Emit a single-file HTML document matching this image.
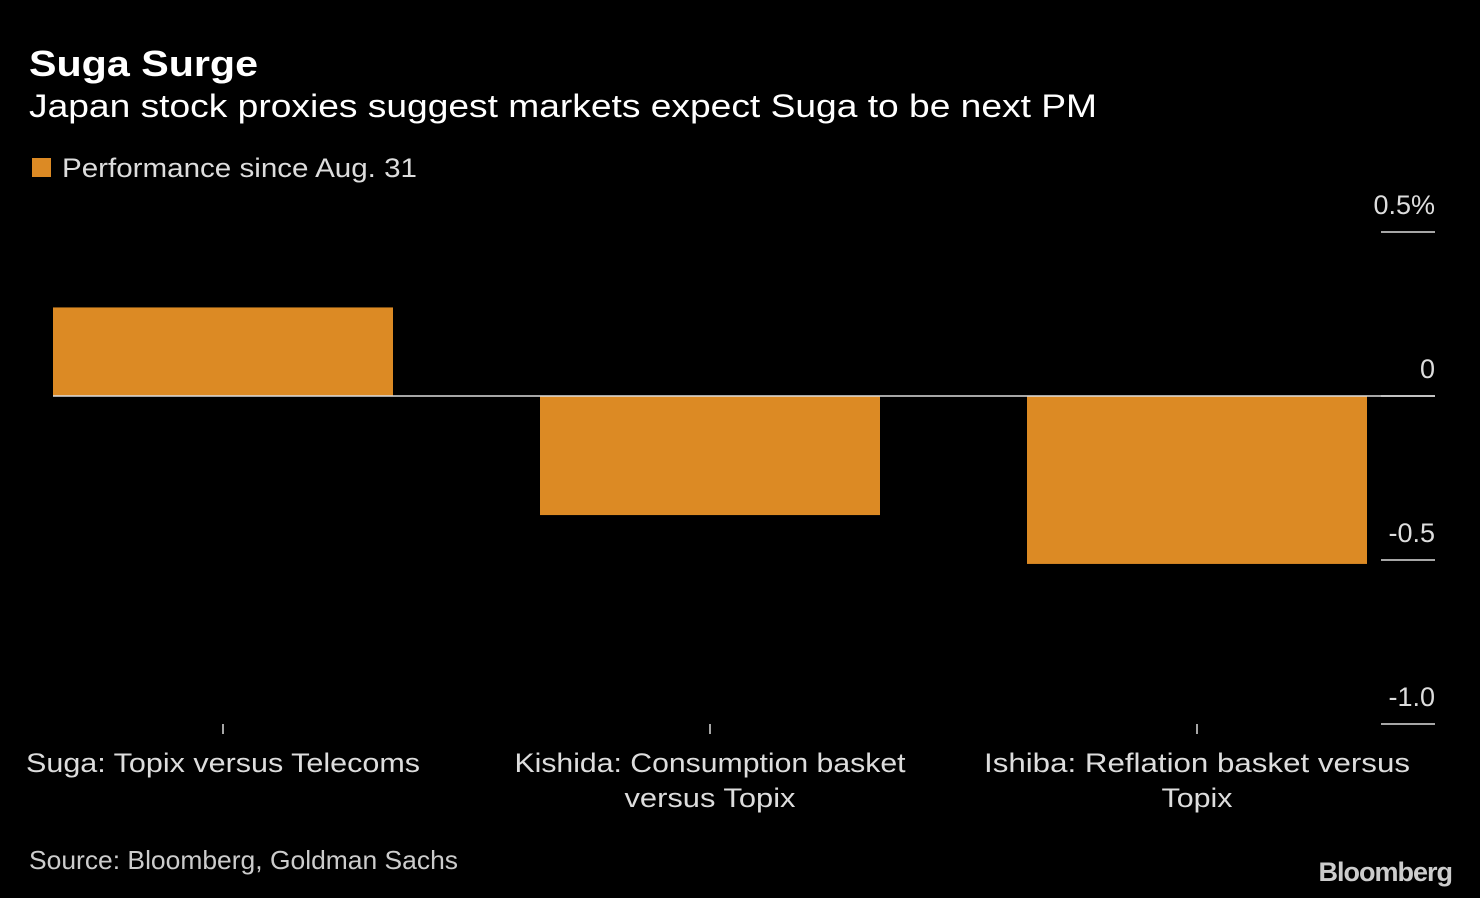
<!DOCTYPE html>
<html><head><meta charset="utf-8"><style>
body{margin:0;background:#000;width:1480px;height:898px;overflow:hidden;font-family:"Liberation Sans",sans-serif;color:#fff}
svg{position:absolute;left:0;top:0}
</style></head><body>
<svg width="1480" height="898">
<text x="29" y="76" font-size="36" font-weight="bold" fill="#fff" textLength="229" lengthAdjust="spacingAndGlyphs">Suga Surge</text>
<text x="29" y="117" font-size="32" fill="#fff" textLength="1068" lengthAdjust="spacingAndGlyphs">Japan stock proxies suggest markets expect Suga to be next PM</text>
<rect x="32" y="158" width="19" height="19" fill="#dc8a24"/>
<text x="62" y="177" font-size="27" fill="#ddd" textLength="355" lengthAdjust="spacingAndGlyphs">Performance since Aug. 31</text>
<g id="axis"></g><g id="bars"></g><g id="cats"></g>
<text x="29" y="869" font-size="26" fill="#ccc" textLength="429" lengthAdjust="spacingAndGlyphs">Source: Bloomberg, Goldman Sachs</text>
<text x="1452" y="881" font-size="27" font-weight="bold" fill="#ccc" text-anchor="end" letter-spacing="-1">Bloomberg</text>
</svg>
<script>
const categories=[["Suga: Topix versus Telecoms"],["Kishida: Consumption basket","versus Topix"],["Ishiba: Reflation basket versus","Topix"]];
const catWidths=[[394],[391,171],[426,71]];
const values=[0.27,-0.363,-0.512];
const tickValues=[0.5,0,-0.5,-1.0];
const tickLabels=["0.5%","0","-0.5","-1.0"];
const NS="http://www.w3.org/2000/svg";
const y=v=>396-v*328;
const x0=(i)=>53+i*487;
const bw=340;
function mk(t,a,p){const e=document.createElementNS(NS,t);for(const k in a)e.setAttribute(k,a[k]);p.appendChild(e);return e;}
const ax=document.getElementById('axis');
tickValues.forEach((v,i)=>{
 const l=mk('line',{x1:1381,x2:1435,y1:y(v),y2:y(v),stroke:'#ddd','stroke-width':1.5},ax);
 
 
 const t=mk('text',{x:1435,y:y(v)-18,'font-size':27,fill:'#ddd','text-anchor':'end'},ax);
 t.textContent=tickLabels[i];
 
 
});
const bg=document.getElementById('bars');
values.forEach((v,i)=>{
 const r=mk('rect',{x:x0(i),y:Math.min(y(v),y(0)),width:bw,height:Math.abs(y(v)-y(0)),fill:'#dc8a24'},bg);
 
 
});
const z=mk('line',{x1:53,x2:1435,y1:y(0),y2:y(0),stroke:'#ddd','stroke-width':1.5},bg);


const cg=document.getElementById('cats');
categories.forEach((c,i)=>{
 const cx=x0(i)+bw/2;
 const tk=mk('line',{x1:cx,x2:cx,y1:724,y2:734,stroke:'#ddd','stroke-width':1.5},cg);
 
 
 c.forEach((s,j)=>{
  const t=mk('text',{x:cx,y:772+j*35,'font-size':27,fill:'#ddd','text-anchor':'middle',textLength:catWidths[i][j],lengthAdjust:'spacingAndGlyphs'},cg);
  t.textContent=s;
  
  
 });
});
</script>
</body></html>
